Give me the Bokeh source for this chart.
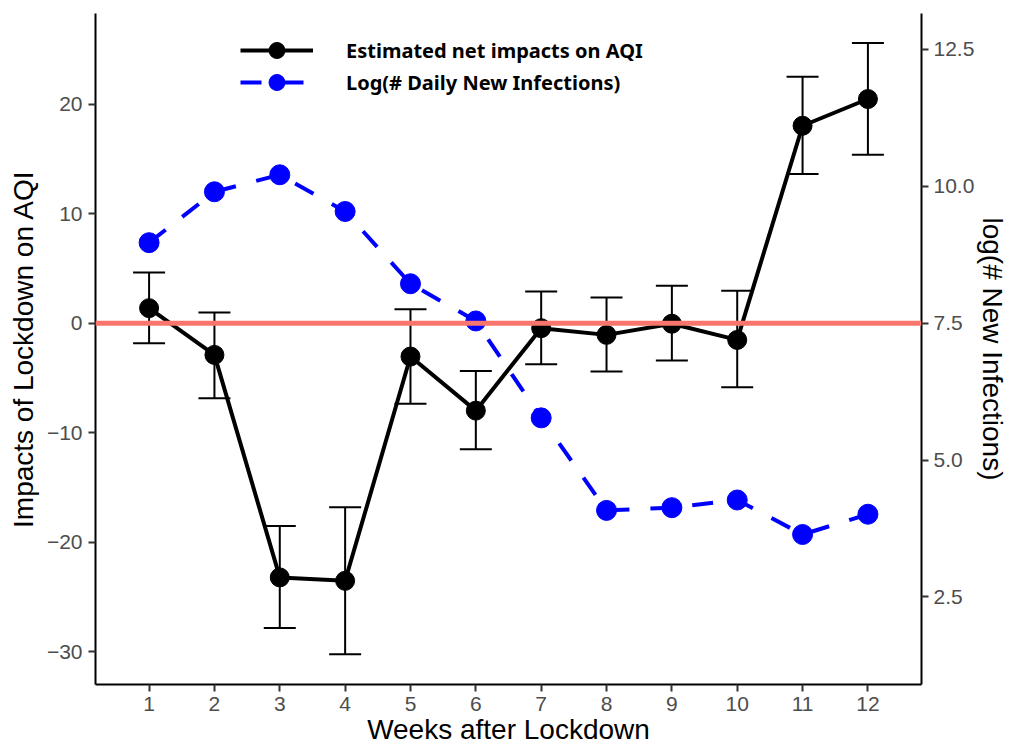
from bokeh.plotting import figure
from bokeh.models import (Range1d, LinearAxis, FixedTicker, Span, Whisker, TeeHead,
                          ColumnDataSource, Legend, LegendItem, CustomJSTickFormatter)
from bokeh.embed import file_html
from bokeh.resources import INLINE

# ---- data ----
weeks = [1, 2, 3, 4, 5, 6, 7, 8, 9, 10, 11, 12]
impact = [1.37, -2.90, -23.22, -23.53, -3.05, -7.99, -0.46, -1.07, -0.05, -1.53, 18.03, 20.47]
impact_upper = [4.62, 0.97, -18.53, -16.82, 1.28, -4.36, 2.89, 2.34, 3.41, 2.95, 22.51, 25.59]
impact_lower = [-1.83, -6.86, -27.83, -30.23, -7.35, -11.52, -3.75, -4.42, -3.42, -5.85, 13.62, 15.38]
log_infections = [8.97, 9.90, 10.21, 9.54, 8.22, 7.54, 5.77, 4.08, 4.13, 4.27, 3.64, 4.01]

left_ticks = [-30, -20, -10, 0, 10, 20]
right_ticks = [2.5, 5.0, 7.5, 10.0, 12.5]
x_ticks = weeks
series_labels = ["Estimated net impacts on AQI", "Log(# Daily New Infections)"]

# secondary axis relation: right = left / 5 + 7.5
left_lo, left_hi = -33.0, 28.28
right_lo, right_hi = left_lo / 5 + 7.5, left_hi / 5 + 7.5

FONT = "Liberation Sans"
TICK_COLOR = "#4D4D4D"

p = figure(width=1011, height=751, output_backend="svg", toolbar_location=None,
           x_range=Range1d(0.18, 12.82), y_range=Range1d(left_lo, left_hi),
           min_border_left=95, min_border_right=89, min_border_top=13, min_border_bottom=67,
           outline_line_color=None, background_fill_color="white", border_fill_color="white")
p.extra_y_ranges = {"inf": Range1d(right_lo, right_hi)}
p.xgrid.visible = False
p.ygrid.visible = False

src = ColumnDataSource(dict(week=weeks, impact=impact, upper=impact_upper,
                            lower=impact_lower, loginf=log_infections))

# error bars
wh = Whisker(base="week", upper="upper", lower="lower", source=src,
             line_color="black", line_width=2,
             upper_head=TeeHead(size=32, line_color="black", line_width=2),
             lower_head=TeeHead(size=32, line_color="black", line_width=2))
p.add_layout(wh)

l1 = p.line("week", "impact", source=src, line_color="black", line_width=4)
c1 = p.scatter("week", "impact", source=src, size=19, fill_color="black", line_color="black")

l2 = p.line("week", "loginf", source=src, y_range_name="inf", line_color="#0000FF",
            line_width=4, line_dash="21 21")
c2 = p.scatter("week", "loginf", source=src, y_range_name="inf", size=20,
               fill_color="#0000FF", line_color="#0000FF")

p.add_layout(Span(location=0, dimension="width", line_color="#F8766D", line_width=5))

# axes styling
def style_axis(ax):
    ax.axis_line_color = "black"
    ax.axis_line_width = 2
    ax.major_tick_line_color = "#333333"
    ax.major_tick_line_width = 2
    ax.major_tick_out = 7
    ax.major_tick_in = 0
    ax.minor_tick_line_color = None
    ax.major_label_text_font = FONT
    ax.major_label_text_font_size = "21px"
    ax.major_label_text_color = TICK_COLOR
    ax.axis_label_text_font = FONT
    ax.axis_label_text_font_size = "28px"
    ax.axis_label_text_font_style = "normal"
    ax.axis_label_text_color = "black"

xa = p.xaxis[0]
style_axis(xa)
xa.ticker = FixedTicker(ticks=x_ticks)
xa.axis_label = "Weeks after Lockdown"
xa.major_label_standoff = 5
xa.axis_label_standoff = 0

ya = p.yaxis[0]
style_axis(ya)
ya.ticker = FixedTicker(ticks=left_ticks)
ya.axis_label = "Impacts of Lockdown on AQI"
ya.major_label_standoff = 6
ya.axis_label_standoff = 5

ra = LinearAxis(y_range_name="inf", axis_label="log(# New Infections)")
style_axis(ra)
ra.ticker = FixedTicker(ticks=right_ticks)
ra.formatter = CustomJSTickFormatter(code="return tick.toFixed(1);")
ra.major_label_standoff = 5
ra.axis_label_standoff = 0
p.add_layout(ra, "right")

legend_style = dict(padding=0, margin=0, glyph_width=73, glyph_height=40, label_height=20,
                    label_standoff=33, border_line_color=None, background_fill_alpha=0,
                    label_text_font="Noto Sans", label_text_font_style="bold",
                    label_text_font_size="20px", label_text_color="black")
leg1 = Legend(items=[LegendItem(label=series_labels[0], renderers=[l1, c1])],
              location=(145, 614), **legend_style)
leg2 = Legend(items=[LegendItem(label=series_labels[1], renderers=[l2, c2])],
              location=(145, 582), **legend_style)
p.add_layout(leg1, "center")
p.add_layout(leg2, "center")

open("out.html", "w").write(file_html(p, INLINE))
